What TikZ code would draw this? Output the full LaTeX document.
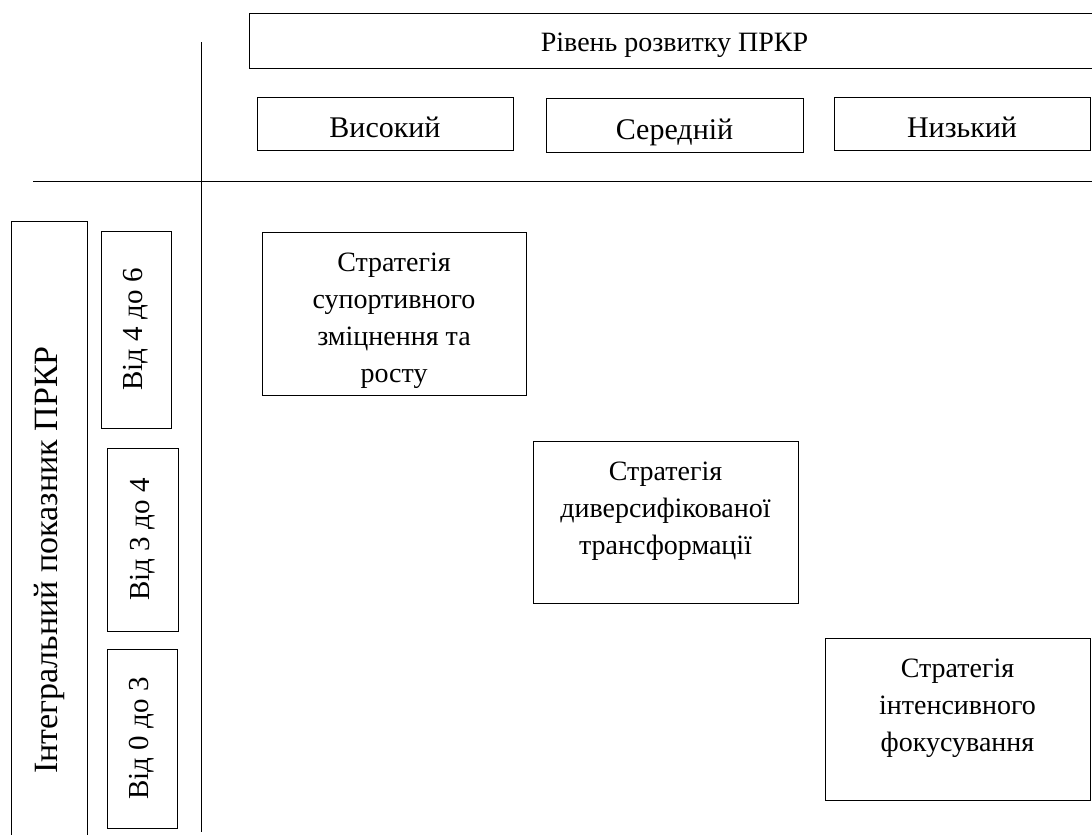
\documentclass[tikz,border=0pt]{standalone}
\usepackage{fontspec}
\setmainfont{Liberation Serif}
\begin{document}
\begin{tikzpicture}[x=1pt,y=-1pt,
  box/.style={draw, line width=0.9pt, rectangle, inner sep=0pt, align=center},
  lab/.style={font=\fontsize{28}{37}\selectfont, align=center},
  sub/.style={font=\fontsize{30}{37}\selectfont, text height=28pt, text depth=0pt},
  rlab/.style={font=\fontsize{29}{37}\selectfont},
  axis/.style={line width=0.9pt}]
\useasboundingbox (0,0) rectangle (1092,835);
% header
\node[box, lab, minimum width=851pt, minimum height=55pt, text height=21pt, text depth=0pt] (top) at (674.5,40.5) {Рівень розвитку ПРКР};
\node[box, sub, minimum width=256pt, minimum height=53pt] (high) at (385,123.5) {Високий};
\node[box, sub, minimum width=257pt, minimum height=54pt] (mid) at (674.5,125) {Середній};
\node[box, sub, minimum width=256pt, minimum height=53pt] (low) at (962,123.5) {Низький};
% axes
\coordinate (hl) at (33,181.5);
\coordinate (hr) at (1092,181.5);
\coordinate (vt) at (201,42);
\coordinate (vb) at (201,832);
\draw[axis] (hl) -- (hr);
\draw[axis] (vt) -- (vb);
% left side
\node[box, minimum width=76pt, minimum height=620pt] (ip) at (49,531) {};
\node[font=\fontsize{34}{40}\selectfont, rotate=90, inner sep=0pt] (ipt) at (49,560) {Інтегральний показник ПРКР};
\node[box, rlab, rotate=90, minimum width=197pt, minimum height=70pt] (r46) at (136,329.5) {Від 4 до 6};
\node[box, rlab, rotate=90, minimum width=183pt, minimum height=71pt] (r34) at (142.5,539.5) {Від 3 до 4};
\node[box, rlab, rotate=90, minimum width=179pt, minimum height=70pt] (r03) at (142,738.5) {Від 0 до 3};
% strategies
\node[box, minimum width=264pt, minimum height=163pt] (s1) at (394,313.5) {};
\node[lab, inner sep=0pt, anchor=north] (s1t) at ([yshift=-21pt]s1.north) {Стратегія\\супортивного\\зміцнення та\\росту};
\node[box, minimum width=265pt, minimum height=162pt] (s2) at (665.5,522) {};
\node[lab, inner sep=0pt, anchor=north] (s2t) at ([yshift=-21pt]s2.north) {Стратегія\\диверсифікованої\\трансформації};
\node[box, minimum width=265pt, minimum height=162pt] (s3) at (957.5,719) {};
\node[lab, inner sep=0pt, anchor=north] (s3t) at ([yshift=-21pt]s3.north) {Стратегія\\інтенсивного\\фокусування};
\end{tikzpicture}
\end{document}
